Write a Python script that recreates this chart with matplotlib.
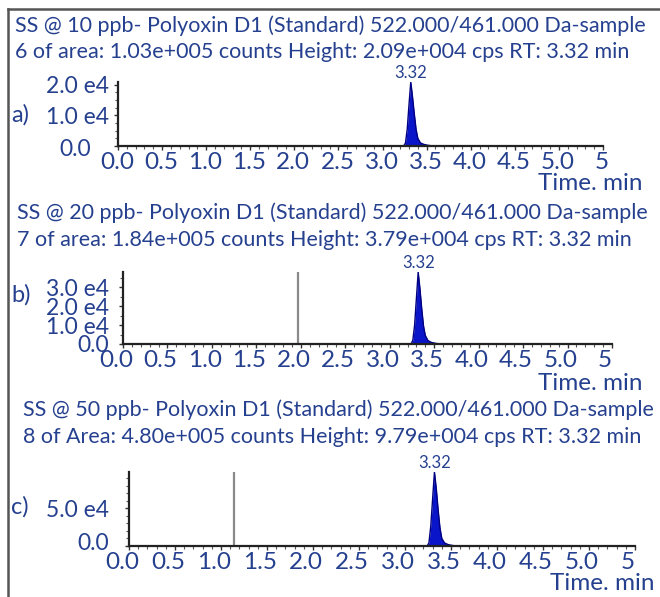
import matplotlib
matplotlib.use("Agg")
import matplotlib.pyplot as plt
from matplotlib.lines import Line2D
from matplotlib.ticker import MultipleLocator
from matplotlib.transforms import ScaledTranslation

plt.rcParams['font.family'] = ['Lato', 'DejaVu Sans']

W, H = 660, 597
BLUE_TXT = '#25408f'

# chromatogram data (time in min, intensity in counts/s)
peak_t = [3.24, 3.26, 3.28, 3.30, 3.32, 3.34, 3.36, 3.38, 3.40, 3.43, 3.47, 3.52, 3.58]
int_a = [0, 0.10e4, 0.55e4, 1.35e4, 2.09e4, 1.60e4, 1.05e4, 0.55e4, 0.25e4, 0.10e4, 0.05e4, 0.02e4, 0]
int_b = [0, 0.20e4, 1.00e4, 2.40e4, 3.79e4, 2.90e4, 1.85e4, 0.95e4, 0.45e4, 0.18e4, 0.08e4, 0.03e4, 0]
int_c = [0, 0.40e4, 2.60e4, 6.20e4, 9.79e4, 7.60e4, 4.80e4, 2.40e4, 1.00e4, 0.40e4, 0.18e4, 0.06e4, 0]
spike_t = [None, 1.97, 1.14]
rt = 3.32

x_ticks = [0.0, 0.5, 1.0, 1.5, 2.0, 2.5, 3.0, 3.5, 4.0, 4.5, 5.0, 5.5]
x_labels = ["0.0", "0.5", "1.0", "1.5", "2.0", "2.5", "3.0", "3.5", "4.0", "4.5", "5.0", "5"]

titles = [
    ("SS @ 10 ppb- Polyoxin D1 (Standard) 522.000/461.000 Da-sample",
     "6 of area: 1.03e+005 counts Height: 2.09e+004 cps RT: 3.32 min"),
    ("SS @ 20 ppb- Polyoxin D1 (Standard) 522.000/461.000 Da-sample",
     "7 of area: 1.84e+005 counts Height: 3.79e+004 cps RT: 3.32 min"),
    ("SS @ 50 ppb- Polyoxin D1 (Standard) 522.000/461.000 Da-sample",
     "8 of Area: 4.80e+005 counts Height: 9.79e+004 cps RT: 3.32 min"),
]
panel_tags = ["a)", "b)", "c)"]
y_ticks = [[0, 1e4, 2e4], [0, 1e4, 2e4, 3e4], [0, 5e4]]
y_labels = [["0.0", "1.0 e4", "2.0 e4"], ["0.0", "1.0 e4", "2.0 e4", "3.0 e4"], ["0.0", "5.0 e4"]]
y_minor = [0.25e4, 0.5e4, 1e4]
intensities = [int_a, int_b, int_c]

# layout in pixels: (left, right, top, bottom) of each plot area
boxes = [(118, 603, 82, 146), (123, 612, 272, 344), (129, 635, 472, 546)]
title_pos = [(15, 26, 52), (17, 213, 240), (23, 410, 437)]
tag_pos = [(11, 115), (11, 295), (11, 507)]
xlab_pos = [(643, 184), (643, 383), (655, 583)]
xlabel_shift = [-1, -7, -7]   # tick text drawn a little left of the ticks
zero_shift = [(-18, 2), (0, 0), (0, -4)]   # px (right, down) for the "0.0" y label


def fx(px):
    return px / W


def fy(py):
    return 1 - py / H


fig = plt.figure(figsize=(W / 100, H / 100), dpi=100)

# frame lines (top and left)
fig.add_artist(Line2D([fx(8), 1], [fy(9), fy(9)], color='#555555', lw=1.8))
fig.add_artist(Line2D([fx(8), fx(8)], [fy(9), 0], color='#555555', lw=1.8))

for i in range(3):
    l, r, t, b = boxes[i]
    ax = fig.add_axes([fx(l), fy(b), fx(r) - fx(l), fy(t) - fy(b)])
    y = intensities[i]
    top = max(y)
    ax.fill_between(peak_t, y, 0, color='#0a14c8', lw=0)
    ax.plot(peak_t, y, color='#000080', lw=1)
    if spike_t[i] is not None:
        ax.vlines(spike_t[i], 0, top, color='#8a8a8a', lw=1.6)
    ax.set_xlim(0, 5.5)
    ax.set_ylim(0, top)
    for s in ['top', 'right']:
        ax.spines[s].set_visible(False)
    for s in ['left', 'bottom']:
        ax.spines[s].set_color('#222222')
        ax.spines[s].set_linewidth(1.6)
    ax.set_xticks(x_ticks)
    ax.set_xticklabels(x_labels)
    ax.xaxis.set_minor_locator(MultipleLocator(0.1))
    ax.set_yticks(y_ticks[i])
    ax.set_yticklabels(y_labels[i])
    ax.yaxis.set_minor_locator(MultipleLocator(y_minor[i]))
    ax.tick_params(axis='x', which='major', length=3, width=1, colors='#333333',
                   labelsize=17.5, labelcolor=BLUE_TXT, pad=1)
    ax.tick_params(axis='x', which='minor', length=2, width=0.8, colors='#555555')
    ax.tick_params(axis='y', which='major', length=3, width=1, colors='#333333',
                   labelsize=16.5, labelcolor=BLUE_TXT, pad=(l - 109) / 1.389 - 3)
    ax.tick_params(axis='y', which='minor', length=2, width=0.8, colors='#555555')
    shift = ScaledTranslation(xlabel_shift[i] / 100, 0, fig.dpi_scale_trans)
    for lab in ax.get_xticklabels():
        lab.set_transform(lab.get_transform() + shift)
    zlab = ax.get_yticklabels()[0]
    zdx, zdy = zero_shift[i]
    zlab.set_transform(zlab.get_transform() +
                       ScaledTranslation(zdx / 100, -zdy / 100, fig.dpi_scale_trans))
    ax.patch.set_alpha(0)
    ax.annotate(f"{rt:.2f}", xy=(rt, top), xytext=(0, 1), textcoords='offset points',
                ha='center', va='bottom', fontsize=12, color=BLUE_TXT, annotation_clip=False)

    tx, ty1, ty2 = title_pos[i]
    fig.text(fx(tx), fy(ty1), titles[i][0], ha='left', va='center', fontsize=15.5, color=BLUE_TXT)
    fig.text(fx(tx), fy(ty2), titles[i][1], ha='left', va='center', fontsize=15.5, color=BLUE_TXT)
    fig.text(fx(tag_pos[i][0]), fy(tag_pos[i][1]), panel_tags[i], ha='left', va='center',
             fontsize=17, color=BLUE_TXT)
    fig.text(fx(xlab_pos[i][0]), fy(xlab_pos[i][1]), "Time. min", ha='right', va='center',
             fontsize=17.5, color=BLUE_TXT)

fig.savefig("out.png", dpi=100)
